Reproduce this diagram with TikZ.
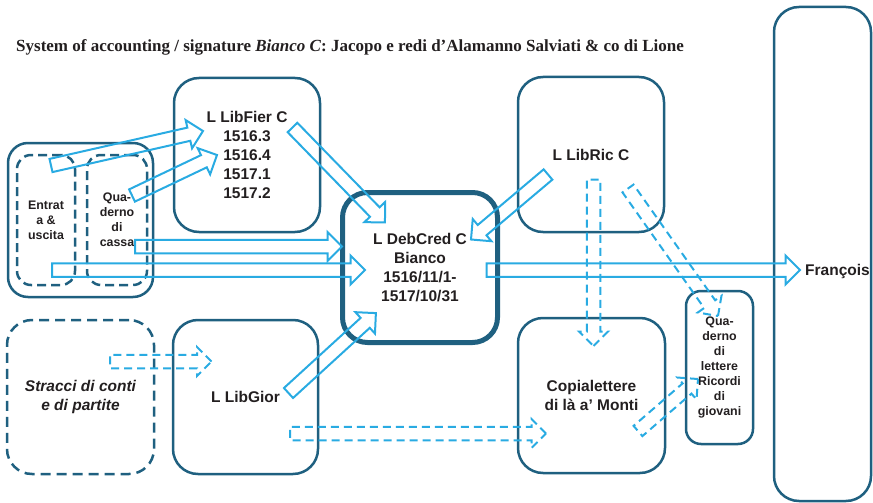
\documentclass[tikz,border=0pt]{standalone}
\usepackage{fontspec}
\setmainfont{Liberation Serif}
\setsansfont{Liberation Sans}
\usetikzlibrary{calc,shapes.arrows}
\definecolor{boxblue}{RGB}{31,96,128}
\definecolor{flowblue}{RGB}{41,171,226}
\definecolor{ink}{RGB}{35,31,32}
\tikzset{
  ledger/.style={draw=boxblue, line width=2.5pt, rounded corners=25pt, align=center, text=ink,
    inner sep=0pt, font=\sffamily\bfseries\fontsize{15.5}{19}\selectfont},
  ledgerdraft/.style={ledger, dash pattern=on 10pt off 6pt},
  smalltext/.style={font=\sffamily\bfseries\fontsize{12.4}{15}\selectfont},
  flowarrow/.style={single arrow, draw=flowblue, line width=2pt, inner sep=5.75pt, outer sep=0pt,
    single arrow head extend=7.75pt, single arrow tip angle=90},
  flowdashed/.style={flowarrow, dash pattern=on 8pt off 5pt}
}
\newcommand{\hollowarrow}[4][]{%
  \path let \p1 = ($(#4)-(#3)$) in
    node[flowarrow, #1, anchor=tail, rotate={atan2(\y1,\x1)},
      minimum height={veclen(\x1,\y1)}] (#2) at (#3) {};}

\begin{document}
\begin{tikzpicture}[x=1pt, y=-1pt]
\useasboundingbox (0,0) rectangle (873,503);
\node[anchor=west, inner sep=0pt, text=ink, font=\bfseries\fontsize{17}{20}\selectfont] (title) at (16,47)
  {System of accounting / signature \textit{Bianco C}: Jacopo e redi d'Alamanno Salviati \& co di Lione};

\node[ledger, rounded corners=20pt, minimum width=145pt, minimum height=154pt] (books) at (80.5,220) {};
\node[ledgerdraft, smalltext, rounded corners=14pt, dash pattern=on 9pt off 5pt,
  minimum width=58pt, minimum height=130pt] (entrata) at (46,220) {Entrat\\a \&\\uscita};
\node[ledgerdraft, smalltext, rounded corners=14pt, dash pattern=on 9pt off 5pt,
  minimum width=60pt, minimum height=130pt] (cassa) at (117,220) {Qua-\\derno\\di\\cassa};
\node[ledger, minimum width=146pt, minimum height=154pt] (fier) at (247,155)
  {L LibFier C\\1516.3\\1516.4\\1517.1\\1517.2};
\node[ledger, line width=5pt, minimum width=155pt, minimum height=150pt] (debcred) at (420,267.5)
  {L DebCred C\\Bianco\\1516/11/1-\\1517/10/31};
\node[ledger, minimum width=146pt, minimum height=155pt] (ric) at (591,154.5) {L LibRic C};
\node[ledger, minimum width=147pt, minimum height=155pt] (copia) at (591.5,395.5) {Copialettere\\di là a' Monti};
\node[ledger, minimum width=145pt, minimum height=154pt] (gior) at (245.5,397) {L LibGior};
\node[ledgerdraft, font=\sffamily\bfseries\itshape\fontsize{15.5}{19}\selectfont,
  minimum width=147pt, minimum height=154pt] (stracci) at (80.5,397) {Stracci di conti\\e di partite};
\node[ledger, smalltext, rounded corners=15pt, minimum width=67pt, minimum height=153pt] (lettere) at (719.5,367.5)
  {Qua-\\derno\\di\\lettere\\Ricordi\\di\\giovani};
\node[ledger, minimum width=97pt, minimum height=494pt] (lione) at (822.5,254) {};
\node[anchor=west, inner sep=0pt, text=ink, font=\sffamily\bfseries\fontsize{15.5}{19}\selectfont] (francois) at (805,271) {François};

\coordinate (a1) at (51,165.5);   \coordinate (b1) at (203,131);
\coordinate (a2) at (132,195.5);  \coordinate (b2) at (217,155);
\coordinate (a3) at (292.5,127.5);\coordinate (b3) at (385,222.5);
\coordinate (a4) at (548,174.5);  \coordinate (b4) at (471,239.5);
\coordinate (a5) at (135,246.5);  \coordinate (b5) at (342,246.5);
\coordinate (a6) at (52,270);     \coordinate (b6) at (365,270);
\coordinate (a7) at (288.5,393);  \coordinate (b7) at (376,313);
\coordinate (a8) at (486.5,270);  \coordinate (b8) at (800,270);
\coordinate (c1) at (110,361.5);  \coordinate (d1) at (211.5,361.5);
\coordinate (c2) at (290,433.5);  \coordinate (d2) at (546,433.5);
\coordinate (c3) at (593.5,179.5);\coordinate (d3) at (593.5,346);
\coordinate (c4) at (628,188.5);  \coordinate (d4) at (718,316);
\coordinate (c5) at (638,431);    \coordinate (d5) at (698,379);

\hollowarrow{entrata-fier}{a1}{b1}
\hollowarrow{cassa-fier}{a2}{b2}
\hollowarrow{fier-debcred}{a3}{b3}
\hollowarrow{ric-debcred}{a4}{b4}
\hollowarrow{cassa-debcred}{a5}{b5}
\hollowarrow{entrata-debcred}{a6}{b6}
\hollowarrow{gior-debcred}{a7}{b7}
\hollowarrow{debcred-francois}{a8}{b8}
\hollowarrow[flowdashed]{stracci-gior}{c1}{d1}
\hollowarrow[flowdashed]{gior-copia}{c2}{d2}
\hollowarrow[flowdashed]{ric-copia}{c3}{d3}
\hollowarrow[flowdashed]{ric-lettere}{c4}{d4}
\hollowarrow[flowdashed]{copia-lettere}{c5}{d5}
\end{tikzpicture}
\end{document}
